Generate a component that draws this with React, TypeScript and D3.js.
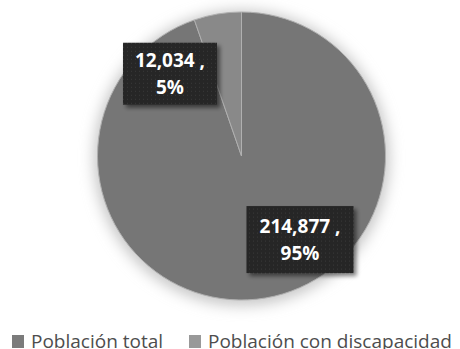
import React from "react";
import * as d3 from "d3";

const categories = ["Población total", "Población con discapacidad"];
const values = [214877, 12034];
const percentLabels = ["95%", "5%"];
const sliceColors = ["#767676", "#898989"];
const legendColors = ["#7b7b7b", "#999999"];

const W = 460;
const H = 349;
const cx = 241.5;
const cy = 156;
const R = 144;

// label placement (angle in degrees clockwise from top, radius from centre)
const labelPlacement = [
  { angle: 145, r: 102, w: 107, h: 67 },
  { angle: -41, r: 109, w: 94, h: 62 },
];

const fmt = d3.format(",");

export default function App() {
  const pie = d3.pie<number>().sort(null).value((d) => d)(values);
  const arc = d3.arc<d3.PieArcDatum<number>>().innerRadius(0).outerRadius(R);

  const labels = labelPlacement.map((p, i) => {
    const a = (p.angle * Math.PI) / 180;
    return {
      x: Math.sin(a) * p.r,
      y: -Math.cos(a) * p.r,
      w: p.w,
      h: p.h,
      line1: fmt(values[i]) + " ,",
      line2: percentLabels[i],
    };
  });

  const legendItems = [
    { x: 12, tx: 31 },
    { x: 189, tx: 208 },
  ];

  return (
    <svg
      width={W}
      height={H}
      style={{ position: "absolute", left: 0, top: 0, background: "#fff" }}
    >
      <defs>
        <filter id="glow" x="-30%" y="-30%" width="160%" height="160%">
          <feGaussianBlur stdDeviation="7" />
        </filter>
        <filter id="boxShadow" x="-20%" y="-20%" width="150%" height="150%">
          <feGaussianBlur in="SourceAlpha" stdDeviation="2" />
          <feOffset dx="3" dy="3" result="b" />
          <feComponentTransfer>
            <feFuncA type="linear" slope="0.5" />
          </feComponentTransfer>
          <feMerge>
            <feMergeNode />
            <feMergeNode in="SourceGraphic" />
          </feMerge>
        </filter>
        <pattern id="dots" width="4" height="4" patternUnits="userSpaceOnUse">
          <rect width="4" height="4" fill="#262626" />
          <rect x="1" y="1" width="1" height="1" fill="#3a3a3a" />
        </pattern>
      </defs>
      <rect width={W} height={H} fill="#fff" />
      <circle cx={cx} cy={cy + 2} r={R + 4} fill="#c8c8c8" filter="url(#glow)" />
      <g transform={`translate(${cx},${cy})`}>
        {pie.map((d, i) => (
          <path
            key={i}
            d={arc(d) || ""}
            fill={sliceColors[i]}
            stroke="#b0b0b0"
            strokeWidth={1}
          />
        ))}
        {labels.map((l, i) => (
          <g key={i} transform={`translate(${l.x},${l.y})`}>
            <rect
              x={-l.w / 2}
              y={-l.h / 2}
              width={l.w}
              height={l.h}
              fill="url(#dots)"
              filter="url(#boxShadow)"
            />
            <text
              textAnchor="middle"
              y={-7}
              fill="#fff"
              fontFamily="'Open Sans', sans-serif"
              fontWeight="bold"
              fontSize={19}
            >
              {l.line1}
            </text>
            <text
              textAnchor="middle"
              y={20}
              fill="#fff"
              fontFamily="'Open Sans', sans-serif"
              fontWeight="bold"
              fontSize={19}
            >
              {l.line2}
            </text>
          </g>
        ))}
      </g>
      {categories.map((c, i) => (
        <g key={c}>
          <rect x={legendItems[i].x} y={335} width={12} height={13} fill={legendColors[i]} />
          <text
            x={legendItems[i].tx}
            y={347.5}
            fill="#4d4d4d"
            fontFamily="'Open Sans', sans-serif"
            fontSize={19}
          >
            {c}
          </text>
        </g>
      ))}
    </svg>
  );
}
